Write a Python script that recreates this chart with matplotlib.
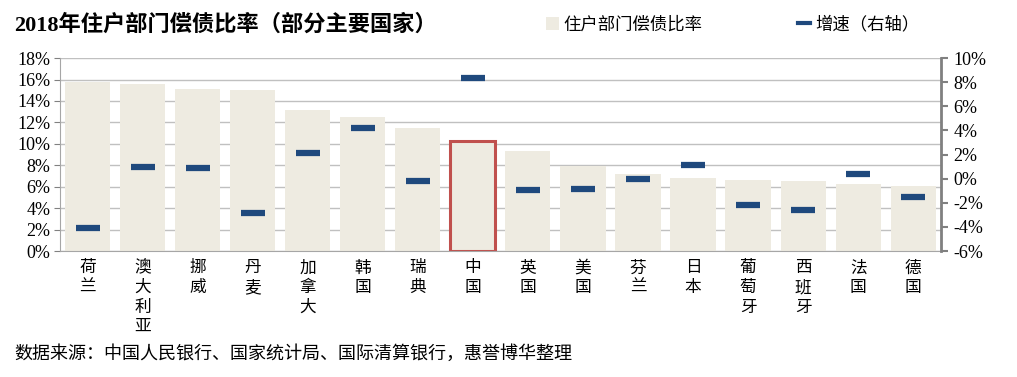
import numpy as np
import matplotlib.pyplot as plt
from matplotlib.lines import Line2D
from matplotlib.patches import Patch

plt.rcParams['font.family'] = ['Liberation Serif', 'Noto Sans CJK SC']

countries = ['荷兰', '澳大利亚', '挪威', '丹麦', '加拿大', '韩国', '瑞典', '中国',
             '英国', '美国', '芬兰', '日本', '葡萄牙', '西班牙', '法国', '德国']
debt_ratio = [15.8, 15.6, 15.1, 15.0, 13.15, 12.5, 11.5, 10.3,
              9.3, 7.9, 7.2, 6.8, 6.6, 6.5, 6.25, 6.1]
growth = [-4.1, 0.95, 0.9, -2.85, 2.1, 4.2, -0.2, 8.35,
          -0.95, -0.85, 0.0, 1.1, -2.2, -2.6, 0.4, -1.5]

bar_color = '#EEEBE1'
dash_color = '#1F497D'
grid_color = '#C0C0C0'
cjk = ['Noto Sans CJK SC']

fig = plt.figure(figsize=(10.17, 3.77), dpi=100)
ax = fig.add_axes([0.059, 0.334, 0.866, 0.512])
x = np.arange(len(countries))

bars = ax.bar(x, debt_ratio, width=0.82, color=bar_color, zorder=2)
# 中国 highlighted
i = countries.index('中国')
bars[i].set_edgecolor('#C0504D')
bars[i].set_linewidth(2.2)

ax.set_ylim(0, 18)
ax.set_yticks(np.arange(0, 19, 2))
ax.set_yticklabels([f'{v}%' for v in range(0, 19, 2)], fontsize=13)
ax.set_xlim(-0.5, len(countries) - 0.5)
ax.set_xticks(x)
ax.set_xticklabels(['\n'.join(c) for c in countries], fontsize=12,
                   family=cjk, linespacing=1.2)
ax.tick_params(axis='x', length=0, pad=6)
ax.tick_params(axis='y', length=4, color='#808080', pad=3)
ax.yaxis.grid(True, color=grid_color, linewidth=1, zorder=0)
ax.set_axisbelow(True)
for s in ['left', 'bottom']:
    ax.spines[s].set_color('#A6A6A6')
ax.spines['top'].set_visible(False)
ax.spines['right'].set_visible(False)

ax2 = ax.twinx()
ax2.plot(x, growth, linestyle='none', marker='_', markersize=17,
         markeredgewidth=4.5, color=dash_color, zorder=3)
ax2.set_ylim(-6, 10)
ax2.set_yticks(np.arange(-6, 11, 2))
ax2.set_yticklabels([f'{v}%' for v in range(-6, 11, 2)], fontsize=13)
ax2.tick_params(axis='y', length=5, width=1.5, color='#808080', pad=4)
ax2.spines['right'].set_color('#808080')
ax2.spines['right'].set_linewidth(2)
for s in ['left', 'top', 'bottom']:
    ax2.spines[s].set_visible(False)

fig.text(0.014, 0.935, '2018年住户部门偿债比率（部分主要国家）', fontsize=16,
         fontweight='bold', va='center')

handles = [Patch(facecolor=bar_color, edgecolor='none'),
           Line2D([0], [0], color=dash_color, linewidth=3)]
fig.legend(handles, ['住户部门偿债比率', '增速（右轴）'], loc='center left',
           bbox_to_anchor=(0.522, 0.935), ncol=2, frameon=False,
           prop={'family': cjk, 'size': 12.5},
           handlelength=0.7, handletextpad=0.3, columnspacing=5.5)

fig.text(0.014, 0.062, '数据来源：中国人民银行、国家统计局、国际清算银行，惠誉博华整理',
         fontsize=13, family=cjk, va='center')

fig.savefig('out.png', dpi=100)
